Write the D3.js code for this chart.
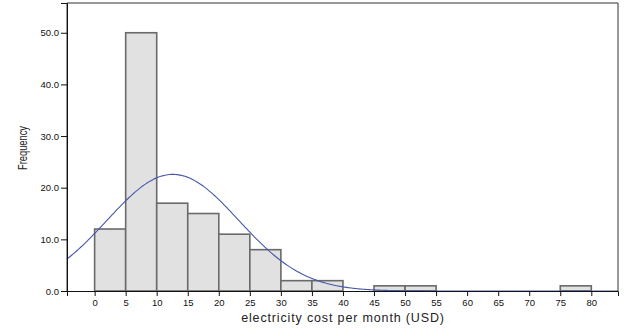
<!DOCTYPE html>
<html><head><meta charset="utf-8">
<script src="https://cdn.jsdelivr.net/npm/d3@7"></script>
<style>body{margin:0;background:#fff}svg{display:block}</style>
</head><body>
<script>
const binStarts = [0, 5, 10, 15, 20, 25, 30, 35, 45, 50, 75];
const binWidth = 5;
const frequencies = [12, 50, 17, 15, 11, 8, 2, 2, 1, 1, 1];
const xTicks = [0,5,10,15,20,25,30,35,40,45,50,55,60,65,70,75,80];
const yTicks = [0,10,20,30,40,50];
const fitMean = 12.6, fitSd = 10.6, fitN = 120;

const W = 626, H = 331;
const svg = d3.select("body").append("svg").attr("width", W).attr("height", H);
const L = 67, R = 618, T = 3, B = 291;
const x = d3.scaleLinear().domain([-4.45, 84.3]).range([L, R]);
const y = d3.scaleLinear().domain([0, 55.76]).range([B, T]);

// bars
svg.append("g").selectAll("rect").data(binStarts).join("rect")
  .attr("x", d => x(d)).attr("width", d => x(d + binWidth) - x(d))
  .attr("y", (d, i) => y(frequencies[i])).attr("height", (d, i) => B - y(frequencies[i]))
  .attr("fill", "#e1e1e1").attr("stroke", "#6a6a6a").attr("stroke-width", 1.6);

// normal curve
const pts = d3.range(-4.45, 84.31, 0.25).map(v => [v, fitN * binWidth / (fitSd * Math.sqrt(2 * Math.PI)) * Math.exp(-((v - fitMean) ** 2) / (2 * fitSd * fitSd))]);
svg.append("path").datum(pts)
  .attr("d", d3.line().x(d => x(d[0])).y(d => y(d[1])).curve(d3.curveBasis))
  .attr("fill", "none").attr("stroke", "#4659a8").attr("stroke-width", 1.1);

// frame
svg.append("path").attr("d", `M${L},${B}V${T}H${R}V${B}`).attr("fill", "none").attr("stroke", "#333").attr("stroke-width", 1);

// axes
const xa = svg.append("g").attr("transform", `translate(0,${B})`)
  .call(d3.axisBottom(x).tickValues(xTicks).tickSize(5).tickPadding(3));
const ya = svg.append("g").attr("transform", `translate(${L},0)`)
  .call(d3.axisLeft(y).tickValues(yTicks).tickSize(6).tickPadding(2).tickFormat(d3.format(".1f")));
[xa, ya].forEach(a => {
  a.selectAll("text").attr("font-family", "Arial, 'Liberation Sans', sans-serif").attr("font-size", 9.5).attr("fill", "#111");
  a.selectAll("line").attr("stroke", "#111");
});
xa.select(".domain").attr("stroke", "#111");
ya.select(".domain").attr("stroke", "#111");

svg.append("text").attr("x", 343).attr("y", 322).attr("text-anchor", "middle")
  .attr("font-family", "Arial, 'Liberation Sans', sans-serif").attr("font-size", 12.5)
  .attr("letter-spacing", 0.85).attr("fill", "#222")
  .text("electricity cost per month (USD)");
svg.append("text").attr("transform", "translate(27,148) rotate(-90)").attr("text-anchor", "middle")
  .attr("font-family", "Arial, 'Liberation Sans', sans-serif").attr("font-size", 12.5).attr("fill", "#222")
  .attr("textLength", 44).attr("lengthAdjust", "spacingAndGlyphs")
  .text("Frequency");
</script>
</body></html>
